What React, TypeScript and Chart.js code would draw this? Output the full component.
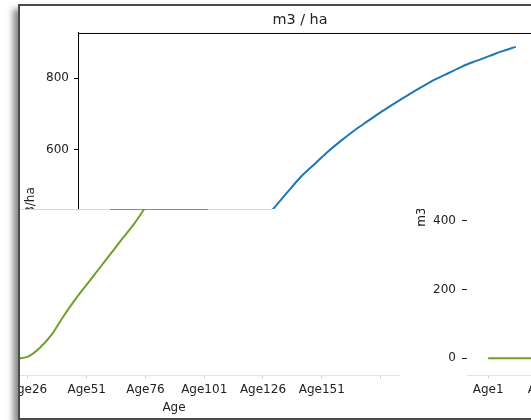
import React, { useEffect, useRef } from "react";
import { Chart, registerables } from "chart.js";

Chart.register(...registerables);

// Standing volume (m3/ha) by stand age
const ages = [1, 6, 11, 16, 21, 26, 31, 36, 41, 46, 51, 56, 61, 66, 71, 76, 81, 86, 91, 96, 101, 106, 111, 116, 121, 126, 131, 136, 141, 146, 151, 156, 161, 166];
const volume = [0, 0, 0, 0, 0, 5, 30, 68, 121, 170, 214, 258, 302, 346, 389, 438, 482, 525, 560, 595, 626, 655, 681, 707, 731, 754, 776, 797, 815, 833, 848, 862, 876, 888];

const yTicks = [0, 200, 400, 600, 800];
const xTickValues = [1, 26, 51, 76, 101, 126, 151, 176];
const xTickLabels = ["Age1", "Age26", "Age51", "Age76", "Age101", "Age126", "Age151", ""];

const title = "m3 / ha";
const yTitle = "m3/ha";
const xTitle = "Age";

const FONT = "DejaVu Sans";
const TEXT = "#222222";

const points = () => ages.map((a, i) => ({ x: a, y: volume[i] }));

const spinePlugin = {
  id: "topSpine",
  afterDraw(chart: any) {
    const { ctx, chartArea } = chart;
    ctx.save();
    ctx.strokeStyle = "#000";
    ctx.lineWidth = 1;
    ctx.beginPath();
    ctx.moveTo(chartArea.left, chartArea.top + 0.5);
    ctx.lineTo(chartArea.right, chartArea.top + 0.5);
    ctx.stroke();
    ctx.restore();
  },
};

function topConfig(): any {
  return {
    type: "line",
    data: {
      datasets: [
        {
          data: points(),
          borderColor: "#1f77b4",
          borderWidth: 2,
          pointRadius: 0,
          cubicInterpolationMode: "monotone",
          fill: false,
        },
      ],
    },
    options: {
      responsive: false,
      animation: false,
      layout: { padding: { left: 0, right: 0, top: 0, bottom: 10 } },
      plugins: {
        legend: { display: false },
        tooltip: { enabled: false },
        title: {
          display: true,
          text: title,
          color: TEXT,
          font: { family: FONT, size: 14.4, weight: "normal" },
          padding: { top: 5.4, bottom: 4.3 },
        },
      },
      scales: {
        x: { type: "linear", display: false, min: 3, max: 189.9 },
        y: {
          type: "linear",
          min: -42.3,
          max: 926.8,
          afterFit: (s: any) => {
            s.width = 58;
          },
          afterBuildTicks: (s: any) => {
            s.ticks = yTicks.map((v) => ({ value: v }));
          },
          ticks: { color: TEXT, font: { family: FONT, size: 12 }, padding: 5 },
          grid: { drawOnChartArea: false, drawTicks: true, tickLength: 4, color: "#000" },
          border: { display: true, color: "#000", width: 1 },
          title: { display: true, text: yTitle, color: TEXT, font: { family: FONT, size: 12 } },
        },
      },
    },
    plugins: [spinePlugin],
  };
}

function bottomConfig(): any {
  return {
    type: "line",
    data: {
      datasets: [
        {
          data: points(),
          borderColor: "#6ea02a",
          borderWidth: 2,
          pointRadius: 0,
          cubicInterpolationMode: "monotone",
          fill: false,
        },
      ],
    },
    options: {
      responsive: false,
      animation: false,
      layout: { padding: { left: 0, right: 0, top: 10, bottom: 0 } },
      plugins: { legend: { display: false }, tooltip: { enabled: false } },
      scales: {
        x: {
          type: "linear",
          min: -8,
          max: 184.3,
          afterBuildTicks: (s: any) => {
            s.ticks = xTickValues.map((v) => ({ value: v }));
          },
          ticks: {
            autoSkip: false,
            maxRotation: 0,
            color: TEXT,
            font: { family: FONT, size: 12 },
            padding: 4,
            callback: (_v: any, i: number) => xTickLabels[i],
          },
          grid: { drawOnChartArea: false, drawTicks: true, tickLength: 3, color: "#cccccc" },
          border: { display: true, color: "#e2e2e2", width: 1 },
          title: {
            display: true,
            text: xTitle,
            color: TEXT,
            font: { family: FONT, size: 12 },
            padding: { top: 0, bottom: 4 },
          },
        },
        y: {
          type: "linear",
          min: -48.9,
          max: 923.8,
          afterFit: (s: any) => {
            s.width = 56;
          },
          afterBuildTicks: (s: any) => {
            s.ticks = yTicks.map((v) => ({ value: v }));
          },
          ticks: { color: TEXT, font: { family: FONT, size: 12 }, padding: 6 },
          grid: { drawOnChartArea: false, drawTicks: true, tickLength: 5, color: "#222" },
          border: { display: false },
          title: { display: true, text: yTitle, color: TEXT, font: { family: FONT, size: 12 } },
        },
      },
    },
  };
}

export default function App() {
  const topRef = useRef<HTMLCanvasElement | null>(null);
  const blRef = useRef<HTMLCanvasElement | null>(null);
  const brRef = useRef<HTMLCanvasElement | null>(null);

  useEffect(() => {
    const charts: Chart[] = [];
    if (topRef.current) charts.push(new Chart(topRef.current, topConfig()));
    if (blRef.current) charts.push(new Chart(blRef.current, bottomConfig()));
    if (brRef.current) charts.push(new Chart(brRef.current, bottomConfig()));
    return () => charts.forEach((c) => c.destroy());
  }, []);

  const abs = (s: React.CSSProperties): React.CSSProperties => ({ position: "absolute", ...s });

  return (
    <div style={abs({ left: 0, top: 0, width: 531, height: 420, overflow: "hidden", background: "#fff", position: "fixed" })}>
      <div
        style={abs({
          left: 18,
          top: 4,
          width: 540,
          height: 412,
          border: "2px solid #4a4a4a",
          boxShadow: "-5px 5px 6px rgba(0,0,0,0.45)",
          background: "#fff",
        })}
      />
      {/* lower-left copy of the chart */}
      <div style={abs({ left: 20, top: 209, width: 388, height: 209, overflow: "hidden" })}>
        <canvas ref={blRef} width={508} height={392} style={abs({ left: -128, top: -182, width: 508, height: 392 })} />
      </div>
      {/* lower-right copy of the chart */}
      <div style={abs({ left: 408, top: 209, width: 123, height: 209, overflow: "hidden" })}>
        <canvas ref={brRef} width={508} height={392} style={abs({ left: 3, top: -182, width: 508, height: 392 })} />
      </div>
      {/* upper chart with title */}
      <div style={abs({ left: 20, top: 6, width: 511, height: 203, overflow: "hidden", background: "#fff" })}>
        <canvas ref={topRef} width={560} height={386} style={abs({ left: 0, top: 0, width: 560, height: 386 })} />
      </div>
      <div style={abs({ left: 20, top: 209, width: 252, height: 1, background: "#d8d8d8" })} />
      <div style={abs({ left: 110, top: 209, width: 98, height: 1, background: "#8a8a8a" })} />
    </div>
  );
}
